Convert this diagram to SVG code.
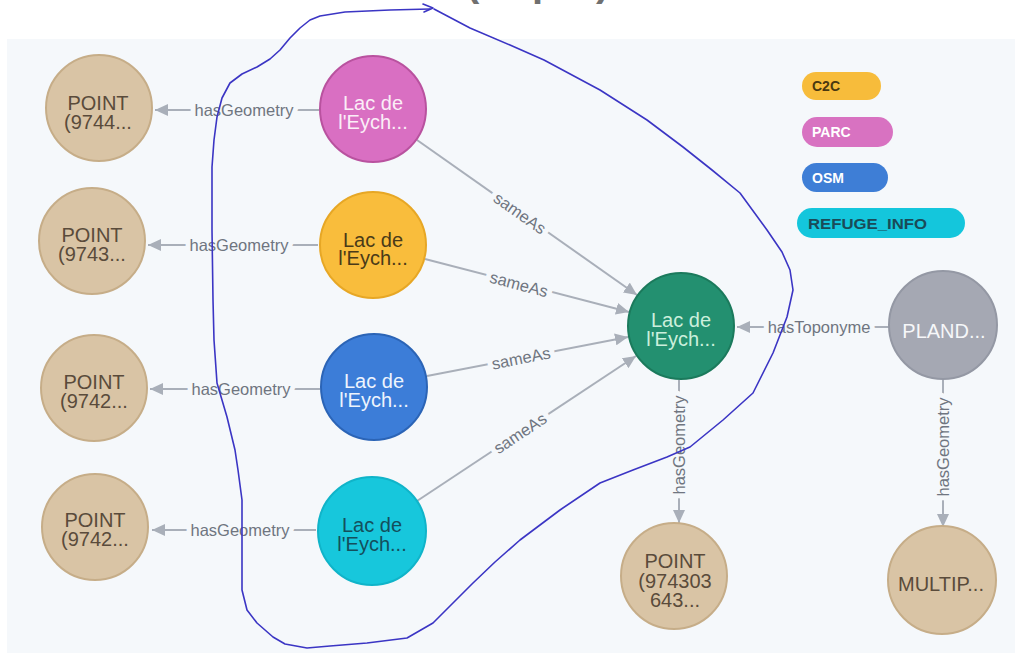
<svg xmlns="http://www.w3.org/2000/svg" width="1015" height="655" viewBox="0 0 1015 655">
<defs>
<style>
.node circle{stroke-width:2}
.nl{font-family:"Liberation Sans",Arial,sans-serif;font-size:20px;text-anchor:middle}
.el{font-family:"Liberation Sans",Arial,sans-serif;font-size:16.5px;fill:#6f7580;text-anchor:middle;dominant-baseline:central;stroke:#f5f8fb;stroke-width:10px;paint-order:stroke;stroke-linejoin:round}
.edge{stroke:#a9afb9;stroke-width:2;fill:none;marker-end:url(#arr)}
.pt circle{fill:#d9c4a5;stroke:#c6ad88}
.pt text{fill:#5a4b3b}
.leg text{font-family:"Liberation Sans",Arial,sans-serif;font-size:14px;font-weight:bold}
.hand{fill:none;stroke:#3b35c4;stroke-width:1.6;stroke-linejoin:round;stroke-linecap:round}
</style>
<marker id="arr" markerUnits="userSpaceOnUse" markerWidth="14" markerHeight="12" refX="13" refY="6" orient="auto">
<path d="M0,0 L13,6 L0,12 z" fill="#a9afb9"/>
</marker>
</defs>
<rect x="0" y="0" width="1015" height="655" fill="#ffffff"/>
<rect x="7" y="39" width="1008" height="614" fill="#f5f8fb"/>
<text font-family="Liberation Sans,Arial,sans-serif" font-size="40" font-weight="bold" fill="#707070" y="-4"><tspan x="466">(</tspan><tspan x="532">p</tspan><tspan x="596">)</tspan></text>

<g id="edges">
<line class="edge" x1="319" y1="110" x2="155" y2="110"/>
<text class="el" x="244" y="110">hasGeometry</text>
<line class="edge" x1="318" y1="245" x2="148" y2="245"/>
<text class="el" x="239" y="245">hasGeometry</text>
<line class="edge" x1="320" y1="389" x2="150" y2="389"/>
<text class="el" x="241" y="389">hasGeometry</text>
<line class="edge" x1="316" y1="530" x2="152" y2="530"/>
<text class="el" x="240" y="530">hasGeometry</text>

<line class="edge" x1="417" y1="140" x2="637" y2="295"/>
<text class="el" transform="translate(520,213) rotate(35.2)">sameAs</text>
<line class="edge" x1="425" y1="259" x2="629" y2="312"/>
<text class="el" transform="translate(519,284) rotate(14.6)">sameAs</text>
<line class="edge" x1="427" y1="376" x2="628" y2="337"/>
<text class="el" transform="translate(521,358) rotate(-11.2)">sameAs</text>
<line class="edge" x1="417" y1="501" x2="636" y2="356"/>
<text class="el" transform="translate(520,433) rotate(-33.6)">sameAs</text>

<line class="edge" x1="889" y1="327" x2="737" y2="327"/>
<text class="el" x="819" y="327">hasToponyme</text>
<line class="edge" x1="679" y1="380" x2="679" y2="523"/>
<text class="el" transform="translate(679,445) rotate(-90)">hasGeometry</text>
<line class="edge" x1="943" y1="379" x2="943" y2="527"/>
<text class="el" transform="translate(943,447) rotate(-90)">hasGeometry</text>
</g>

<g id="point1" class="node pt"><circle cx="99" cy="108" r="53"/><text class="nl"><tspan x="98" y="110">POINT</tspan><tspan x="98" y="129">(9744...</tspan></text></g>
<g id="point2" class="node pt"><circle cx="92" cy="241" r="53"/><text class="nl"><tspan x="92" y="242">POINT</tspan><tspan x="92" y="261">(9743...</tspan></text></g>
<g id="point3" class="node pt"><circle cx="94" cy="388" r="53"/><text class="nl"><tspan x="94" y="389">POINT</tspan><tspan x="94" y="408">(9742...</tspan></text></g>
<g id="point4" class="node pt"><circle cx="95" cy="527" r="53"/><text class="nl"><tspan x="95" y="527">POINT</tspan><tspan x="95" y="546">(9742...</tspan></text></g>

<g id="lac-parc" class="node"><circle cx="373" cy="109" r="53" fill="#d96fc2" stroke="#b9529f"/><text class="nl" fill="#fbeef7"><tspan x="373" y="110">Lac de</tspan><tspan x="373" y="129">l'Eych...</tspan></text></g>
<g id="lac-c2c" class="node"><circle cx="373" cy="245" r="53" fill="#f9bd3c" stroke="#e7a725"/><text class="nl" fill="#4a3a18"><tspan x="373" y="247">Lac de</tspan><tspan x="373" y="265">l'Eych...</tspan></text></g>
<g id="lac-osm" class="node"><circle cx="374" cy="387" r="53" fill="#3c7dd8" stroke="#2b64b6"/><text class="nl" fill="#eef4fd"><tspan x="374" y="388">Lac de</tspan><tspan x="374" y="407">l'Eych...</tspan></text></g>
<g id="lac-refuge" class="node"><circle cx="372" cy="531" r="54" fill="#17c7dc" stroke="#10b4c9"/><text class="nl" fill="#144f5c"><tspan x="372" y="532">Lac de</tspan><tspan x="372" y="551">l'Eych...</tspan></text></g>
<g id="lac-central" class="node"><circle cx="681" cy="326" r="53" fill="#239070" stroke="#1b7a5c"/><text class="nl" fill="#ccefdc"><tspan x="681" y="327">Lac de</tspan><tspan x="681" y="346">l'Eych...</tspan></text></g>
<g id="pland" class="node"><circle cx="943" cy="325" r="54" fill="#a5a8b3" stroke="#9498a4"/><text class="nl" x="944" y="338" fill="#f6f7f9">PLAND...</text></g>
<g id="point-central" class="node pt"><circle cx="674" cy="576" r="53"/><text class="nl"><tspan x="675" y="568">POINT</tspan><tspan x="675" y="588">(974303</tspan><tspan x="675" y="607">643...</tspan></text></g>
<g id="multip" class="node pt"><circle cx="942" cy="580" r="54"/><text class="nl" x="941" y="591">MULTIP...</text></g>

<g id="legend" class="leg">
<rect x="802" y="72" width="79" height="28" rx="14" fill="#f7bc3b"/><text x="812" y="91" fill="#4a3810">C2C</text>
<rect x="802" y="117" width="91" height="30" rx="15" fill="#d872c1"/><text x="812" y="137" fill="#ffffff">PARC</text>
<rect x="802" y="163" width="86" height="29" rx="14.5" fill="#3e7ed6"/><text x="812" y="183" fill="#ffffff">OSM</text>
<rect x="797" y="208" width="168" height="30" rx="15" fill="#14c6dc"/><text x="808" y="229" fill="#1a4b58" textLength="119" lengthAdjust="spacingAndGlyphs">REFUGE_INFO</text>
</g>

<g id="annotation">
<path class="hand" d="M434,9 L470,28 L510,45 L544,60 L600,90 L647,120 L683,147 L712,170 L740,193 L767,230 L782,252 L790,270 L793,290 L787,317 L773,353 L753,393 L723,420 L690,447 L667,457 L633,470 L600,483 L560,510 L520,540 L495,562 L473,583 L433,623 L407,638 L367,643 L330,646 L307,648 L285,644 L273,637 L257,623 L247,610 L242,590 L242,573 L242,540 L242,500 L238,470 L235,450 L227,417 L217,383 L214,340 L213,300 L212,230 L212,167 L214,140 L217,117 L222,98 L230,83 L242,74 L257,67 L270,59 L280,50 L290,38 L300,28 L310,20 L320,16 L345,12 L390,10 L430,9"/>
<path class="hand" d="M423,4 L433,8 L424,12"/>
</g>
</svg>
